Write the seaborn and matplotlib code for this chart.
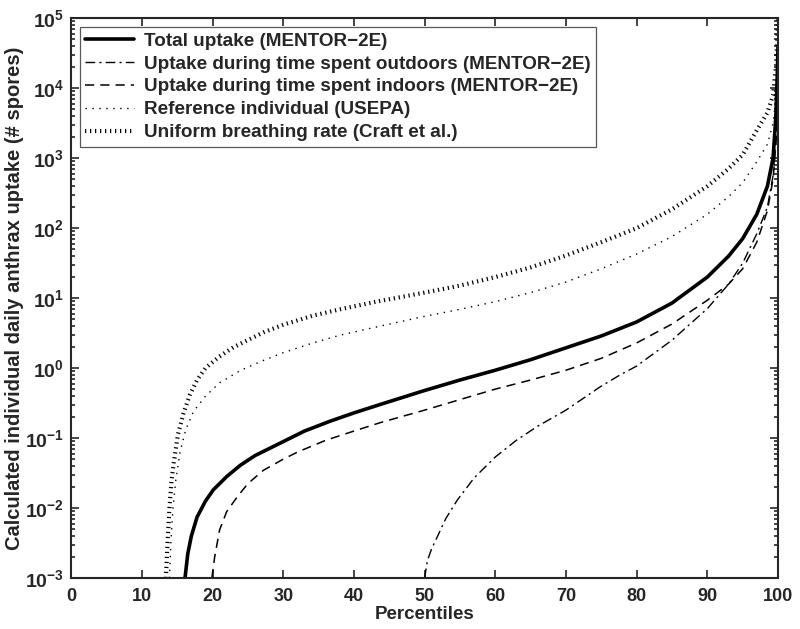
import numpy as np
import pandas as pd
import seaborn as sns
import matplotlib
matplotlib.use("Agg")
import matplotlib.pyplot as plt
from matplotlib.ticker import LogLocator, FixedLocator, NullFormatter

# values (percentile -> # spores)
total_pct = [16.1, 16.5, 17, 17.8, 19, 20.1, 22, 23.9, 26, 29.6, 33, 36.6, 40, 43.7, 50, 55, 60, 65, 70, 75,
             80, 85, 90, 93, 95, 97, 98.5, 99.3, 99.7, 99.9, 100]
total_val = [1e-3, 2.24e-3, 3.98e-3, 7.41e-3, 1.26e-2, 1.82e-2, 2.82e-2, 4.07e-2, 5.62e-2, 8.51e-2, 0.126,
             0.174, 0.229, 0.302, 0.479, 0.676, 0.933, 1.32, 1.95, 2.88, 4.57, 8.51, 20.0, 39.8, 70.8, 158,
             398, 1000, 3980, 15800, 39800]

indoor_pct = [19.9, 20.3, 21, 22, 23.5, 25, 27.2, 30, 32, 36, 40, 43.7, 50, 55, 60, 65, 70, 75, 80, 85, 90,
              93, 95, 97, 98.5, 99.3, 99.7, 99.9, 100]
indoor_val = [1e-3, 2.0e-3, 4.9e-3, 8.9e-3, 1.45e-2, 2.24e-2, 3.47e-2, 5.0e-2, 6.3e-2, 9.3e-2, 0.126, 0.166,
              0.251, 0.355, 0.501, 0.676, 0.933, 1.38, 2.29, 4.27, 9.33, 15.8, 26.3, 63.1, 178, 501, 1580,
              5010, 12600]

outdoor_pct = [50, 50.4, 51, 51.8, 53, 54.6, 57, 60, 63, 66, 70, 74.8, 77.6, 80, 85, 90, 93, 95, 97, 98.5,
               99.3, 99.7, 99.9, 100]
outdoor_val = [1e-3, 1.78e-3, 2.63e-3, 3.89e-3, 7.08e-3, 1.29e-2, 2.69e-2, 5.37e-2, 9.33e-2, 0.148, 0.251,
               0.537, 0.794, 1.07, 2.51, 7.08, 15.8, 31.6, 83.2, 200, 562, 1780, 5620, 12600]

ref_pct = [13.9, 14.1, 14.4, 14.8, 15.4, 16.2, 17.3, 19, 21, 24, 27.2, 30, 34.2, 38, 43.7, 50, 55, 60, 65,
           70, 75, 80, 85, 90, 93, 95, 97, 98.5, 99.3, 99.7, 100]
ref_val = [1e-3, 3.16e-3, 1e-2, 2.51e-2, 6.31e-2, 0.132, 0.240, 0.398, 0.617, 0.933, 1.29, 1.66, 2.29, 2.95,
           3.98, 5.50, 6.92, 8.91, 12.0, 17.0, 26.3, 42.7, 75.9, 158, 282, 447, 891, 1580, 3160, 7080, 25100]

uni_pct = [13.4, 13.6, 13.9, 14.2, 14.5, 15.1, 15.9, 16.8, 17.8, 19, 20.9, 23, 27.2, 30, 34.2, 38, 43.7, 50,
           55, 60, 65, 70, 75, 80, 85, 90, 93, 95, 97, 98.5, 99.3, 99.7, 99.9, 100]
uni_val = [1e-3, 2.75e-3, 1e-2, 2.51e-2, 4.37e-2, 0.112, 0.229, 0.417, 0.676, 1.0, 1.45, 2.0, 3.24, 4.17,
           5.62, 6.92, 9.12, 12.0, 15.1, 20.0, 27.5, 40.7, 63.1, 100, 186, 398, 708, 1120, 2510, 4470, 7940,
           20000, 50100, 1e5]

labels = ["Total uptake (MENTOR\u22122E)",
          "Uptake during time spent outdoors (MENTOR\u22122E)",
          "Uptake during time spent indoors (MENTOR\u22122E)",
          "Reference individual (USEPA)",
          "Uniform breathing rate (Craft et al.)"]

sns.set_style("ticks")
plt.rcParams['font.family'] = ['Liberation Sans', 'DejaVu Sans']
plt.rcParams['font.weight'] = 'bold'
plt.rcParams['mathtext.fontset'] = 'custom'
plt.rcParams['mathtext.rm'] = 'Liberation Sans:bold'
plt.rcParams['mathtext.bf'] = 'Liberation Sans:bold'

fig = plt.figure(figsize=(8, 6.29), dpi=100)
ax = fig.add_axes([0.089, 0.081, 0.8835, 0.890])

series = [
    (total_pct, total_val, labels[0], dict(linewidth=2.6, linestyle='-')),
    (outdoor_pct, outdoor_val, labels[1], dict(linewidth=1.0, linestyle=(0, (7, 3, 1.5, 3)))),
    (indoor_pct, indoor_val, labels[2], dict(linewidth=1.1, linestyle=(0, (6, 4)))),
    (ref_pct, ref_val, labels[3], dict(linewidth=1.0, linestyle=(0, (1, 4)))),
    (uni_pct, uni_val, labels[4], dict(linewidth=3.0, linestyle=(0, (0.3, 0.9)), dash_capstyle='butt')),
]
for xs, ys, lab, kw in series:
    df = pd.DataFrame({"pct": xs, "val": ys})
    sns.lineplot(data=df, x="pct", y="val", ax=ax, color='black', label=lab,
                 estimator=None, sort=False, **kw)

ax.set_yscale('log')
ax.set_xlim(0, 100)
ax.set_ylim(1e-3, 1e5)

ax.xaxis.set_major_locator(FixedLocator(np.arange(0, 101, 10)))
ax.set_xticklabels([str(v) for v in range(0, 101, 10)], fontsize=13, fontweight='bold')
decades = list(range(-3, 6))
ax.yaxis.set_major_locator(FixedLocator([10.0 ** d for d in decades]))
ax.set_yticklabels([r'$\mathbf{10^{%d}}$' % d for d in decades], fontsize=14)
ax.yaxis.set_minor_locator(LogLocator(base=10, subs=np.arange(2, 10), numticks=20))
ax.yaxis.set_minor_formatter(NullFormatter())

ax.tick_params(which='both', direction='in', top=True, right=True, width=1.2)
ax.tick_params(which='major', length=6)
ax.tick_params(axis='x', which='major', pad=7)
ax.tick_params(axis='y', which='major', pad=5)
ax.tick_params(which='minor', length=3)
for s in ax.spines.values():
    s.set_linewidth(1.5)
    s.set_visible(True)

ax.set_xlabel("Percentiles", fontsize=13.5, fontweight='bold', labelpad=1)
ax.set_ylabel("Calculated individual daily anthrax uptake (# spores)", fontsize=14.5,
              fontweight='bold', labelpad=1)

leg = ax.legend(loc='upper left', fontsize=13.6, frameon=True, fancybox=False,
                edgecolor='0.35', framealpha=1, borderaxespad=0.45, handlelength=2.6,
                labelspacing=0.3, borderpad=0.3, handletextpad=0.5)
leg.get_frame().set_linewidth(0.9)

fig.savefig("out.png", dpi=100)
